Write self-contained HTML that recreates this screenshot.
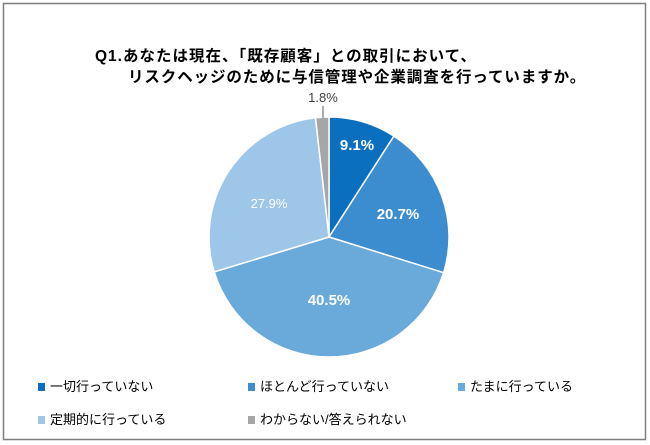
<!DOCTYPE html>
<html><head><meta charset="utf-8"><style>
body{margin:0;width:650px;height:445px;background:#fff;overflow:hidden}
svg{display:block}
text{font-family:"Liberation Sans","Noto Sans CJK JP",sans-serif}
</style></head><body>
<svg width="650" height="445" viewBox="0 0 650 445">
<rect x="3.5" y="3.5" width="642" height="436" fill="#fff" stroke="#7f7f7f" stroke-width="1.5"/>
<text x="95" y="61" font-size="15.5" font-weight="bold" fill="#000" letter-spacing="1">Q1.あなたは現在、「既存顧客」との取引において、</text>
<text x="128" y="82" font-size="15.5" font-weight="bold" fill="#000" letter-spacing="0.9">リスクヘッジのために与信管理や企業調査を行っていますか。</text>
<g stroke="#fff" stroke-width="1.5">
<path d="M329,237 L329,117 A120,120 0 0 1 393.9,136.1 Z" fill="#0b6fc0"/>
<path d="M329,237 L393.9,136.1 A120,120 0 0 1 443.6,272.7 Z" fill="#3c8dd0"/>
<path d="M329,237 L443.6,272.7 A120,120 0 0 1 214.2,271.9 Z" fill="#6aaada"/>
<path d="M329,237 L214.2,271.9 A120,120 0 0 1 315.5,117.8 Z" fill="#9dc6e8"/>
<path d="M329,237 L315.5,117.8 A120,120 0 0 1 329,117 Z" fill="#a6a6a6"/>
</g>
<line x1="323" y1="106" x2="323" y2="118" stroke="#595959" stroke-width="1"/>
<text x="323" y="102" font-size="13" fill="#404040" text-anchor="middle">1.8%</text>
<g font-size="15" font-weight="bold" fill="#fff" text-anchor="middle">
<text x="357" y="150">9.1%</text>
<text x="398" y="219">20.7%</text>
<text x="329" y="305">40.5%</text>
</g>
<text x="269" y="208" font-size="13" fill="#fff" text-anchor="middle">27.9%</text>
<g font-size="13" fill="#000">
<rect x="38" y="383" width="7" height="8" fill="#0b6fc0"/><text x="50" y="391">一切行っていない</text>
<rect x="248" y="383" width="7" height="8" fill="#3c8dd0"/><text x="260" y="391">ほとんど行っていない</text>
<rect x="458" y="383" width="7" height="8" fill="#6aaada"/><text x="470" y="391">たまに行っている</text>
<rect x="38" y="416" width="7" height="8" fill="#9dc6e8"/><text x="50" y="424">定期的に行っている</text>
<rect x="248" y="416" width="7" height="8" fill="#a6a6a6"/><text x="260" y="424">わからない/答えられない</text>
</g>
</svg>
</body></html>
